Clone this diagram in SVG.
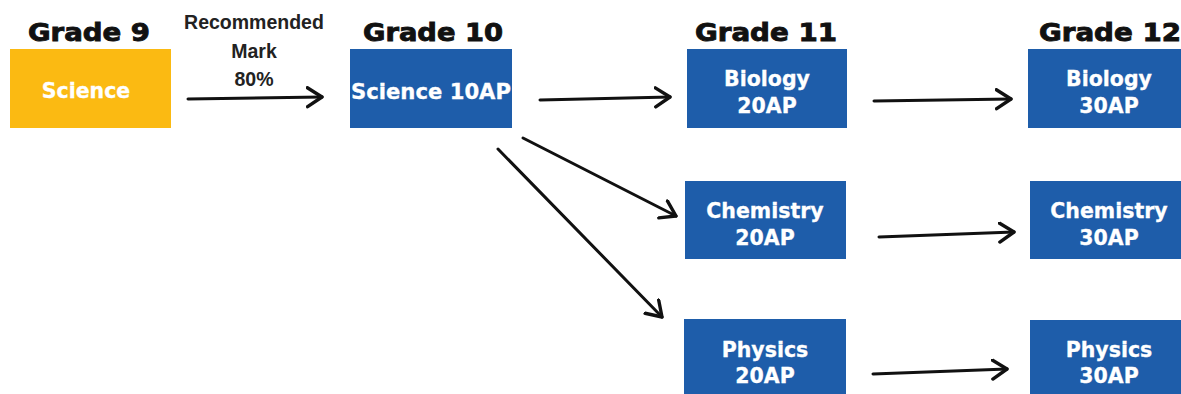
<svg xmlns="http://www.w3.org/2000/svg" width="1181" height="394" viewBox="0 0 1181 394">
<style>
.hdr{font-family:"DejaVu Sans",Verdana,sans-serif;font-weight:bold;font-size:25px;fill:#111;stroke:#111;stroke-width:0.9;text-anchor:middle}
.box{fill:#1E5DAA}
.yel{fill:#FBBA12}
.lbl{font-family:"DejaVu Sans",Verdana,sans-serif;font-weight:bold;font-size:20.5px;fill:#fff;stroke:#fff;stroke-width:0.3;text-anchor:middle}
.note{font-family:"Liberation Sans",Arial,sans-serif;font-weight:bold;font-size:19.5px;fill:#222;text-anchor:middle}
.conn{stroke:#111;stroke-width:3;fill:none;stroke-linecap:round;marker-end:url(#chev)}
</style>
<defs>
<marker id="chev" markerUnits="userSpaceOnUse" markerWidth="22" markerHeight="26" refX="16" refY="11" orient="auto" viewBox="0 0 22 26">
<path d="M1.5,1.5 L16,11 L1.5,20.5" fill="none" stroke="#111" stroke-width="3.4" stroke-linecap="round" stroke-linejoin="round"/>
</marker>
</defs>
<rect width="1181" height="394" fill="#fff"/>
<g id="headers">
<text class="hdr" x="89" y="41" textLength="122" lengthAdjust="spacingAndGlyphs">Grade 9</text>
<text class="hdr" x="433" y="41" textLength="140" lengthAdjust="spacingAndGlyphs">Grade 10</text>
<text class="hdr" x="766" y="41" textLength="142" lengthAdjust="spacingAndGlyphs">Grade 11</text>
<text class="hdr" x="1110" y="41" textLength="142" lengthAdjust="spacingAndGlyphs">Grade 12</text>
</g>
<g id="science9">
<rect class="yel" x="10" y="49" width="161" height="79"/>
<text class="lbl" x="86" y="98">Science</text>
</g>
<g id="science10ap">
<rect class="box" x="350" y="49" width="162" height="79"/>
<text class="lbl" x="431" y="99" textLength="160" lengthAdjust="spacingAndGlyphs">Science 10AP</text>
</g>
<g id="biology20ap">
<rect class="box" x="687" y="49" width="160" height="79"/>
<text class="lbl" x="767" y="86">Biology</text>
<text class="lbl" x="767" y="113">20AP</text>
</g>
<g id="chemistry20ap">
<rect class="box" x="685" y="181" width="161" height="78"/>
<text class="lbl" x="765" y="218">Chemistry</text>
<text class="lbl" x="765" y="245">20AP</text>
</g>
<g id="physics20ap">
<rect class="box" x="684" y="319" width="162" height="80"/>
<text class="lbl" x="765" y="357">Physics</text>
<text class="lbl" x="765" y="383">20AP</text>
</g>
<g id="biology30ap">
<rect class="box" x="1028" y="49" width="162" height="79"/>
<text class="lbl" x="1109" y="86">Biology</text>
<text class="lbl" x="1109" y="113">30AP</text>
</g>
<g id="chemistry30ap">
<rect class="box" x="1030" y="181" width="160" height="78"/>
<text class="lbl" x="1109" y="218">Chemistry</text>
<text class="lbl" x="1109" y="245">30AP</text>
</g>
<g id="physics30ap">
<rect class="box" x="1030" y="320" width="160" height="80"/>
<text class="lbl" x="1109" y="357">Physics</text>
<text class="lbl" x="1109" y="383">30AP</text>
</g>
<g id="note">
<text class="note" x="254" y="29">Recommended</text>
<text class="note" x="254" y="58">Mark</text>
<text class="note" x="254" y="86">80%</text>
</g>
<g id="connectors">
<path class="conn" d="M188,99 L322,97"/>
<path class="conn" d="M540,100 L670,97"/>
<path class="conn" d="M874,101 L1011,99"/>
<path class="conn" d="M523,138 L676,216"/>
<path class="conn" d="M498,149 L662,317"/>
<path class="conn" d="M879,237 L1014,232"/>
<path class="conn" d="M873,374 L1007,369"/>
</g>
</svg>
